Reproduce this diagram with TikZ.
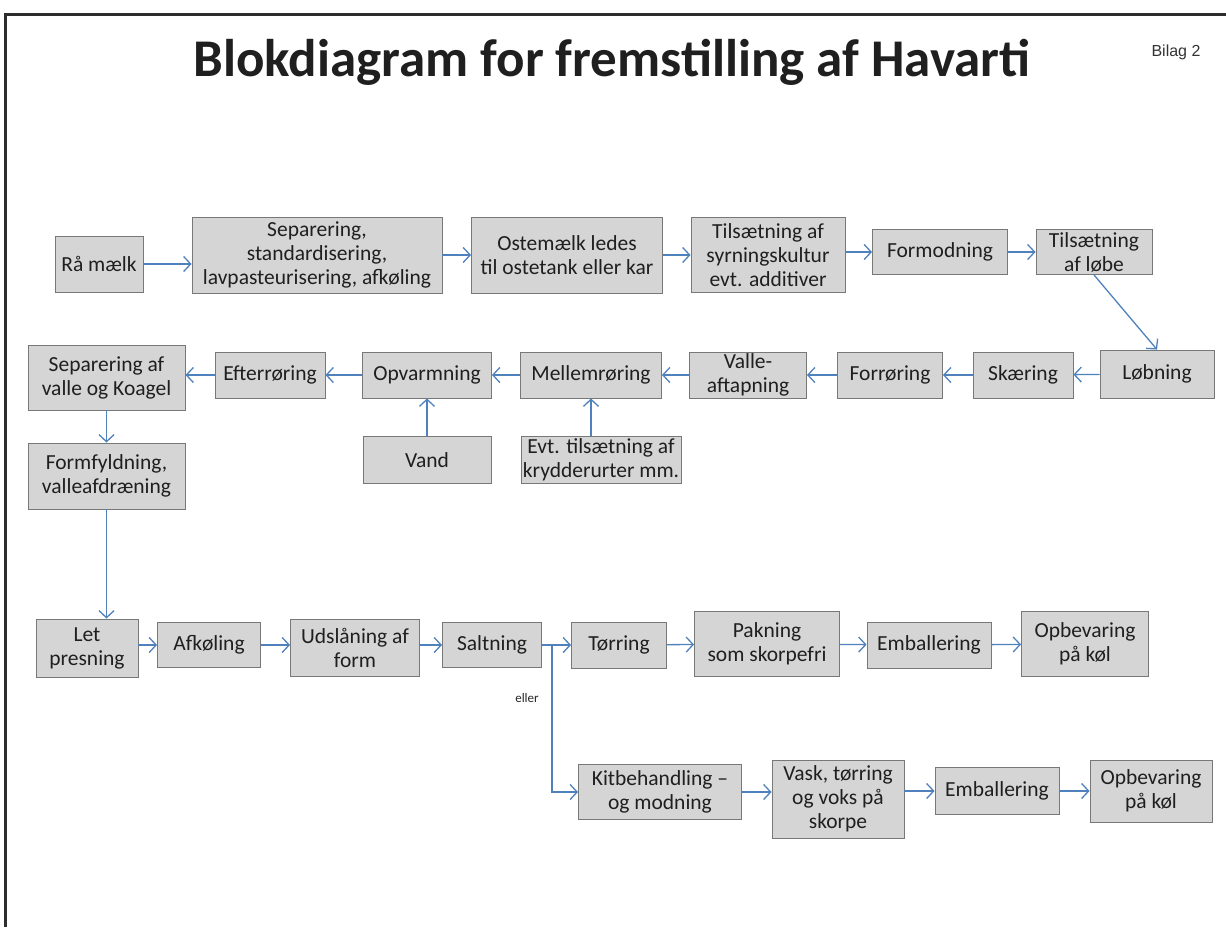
\documentclass[tikz,border=0pt]{standalone}
\usepackage{fontspec}
\setmainfont{Carlito}
\newfontfamily\arialf{Liberation Sans}
\usetikzlibrary{arrows.meta,calc}
\definecolor{boxfill}{RGB}{213,213,213}
\definecolor{boxline}{RGB}{120,120,120}
\definecolor{arrblue}{RGB}{79,129,189}
\definecolor{frame}{RGB}{45,45,45}
\tikzset{
  box/.style={draw=boxline, fill=boxfill, line width=0.9, inner sep=0pt, align=center,
    font=\fontsize{21.5}{24}\selectfont, text=black!88},
  flow/.style={draw=arrblue, line width=1.3, -{Straight Barb[length=7,width=15]}},
  plain/.style={draw=arrblue, line width=1.3},
}
\newcommand{\bx}[6]{\node[box, minimum width=#4, minimum height=#5] (#1) at (#2,#3) {#6};}
\begin{document}
\begin{tikzpicture}[x=1pt,y=-1pt]
\useasboundingbox (0,0) rectangle (1226,927);
% frame
\draw[frame, line width=3] (5,927) -- (5,14) -- (1226,14);
% title
\node[font=\fontsize{53}{60}\selectfont\bfseries, text=black!88] (title) at (612,62) {Blokdiagram for fremstilling af Havarti};
\node[font=\arialf\fontsize{16}{18}\selectfont, text=black!80] (bilag) at (1176,52) {Bilag 2};
% row 1
\bx{raa}{99}{264}{88}{56}{Rå mælk}
\bx{sep}{317}{255}{250}{76}{Separering,\\standardisering,\\lavpasteurisering, afkøling}
\bx{ost}{567}{255}{191}{76}{Ostemælk ledes\\til ostetank eller kar}
\bx{syr}{768}{255}{154}{75}{Tilsætning af\\syrningskultur\\evt. additiver}
\bx{form}{940}{252}{135}{45}{Formodning}
\bx{lobe}{1094}{252}{116}{45}{Tilsætning\\af løbe}
% row 2
\bx{lob}{1157}{374}{114}{48}{Løbning}
\bx{skaer}{1023}{375}{100}{46}{Skæring}
\bx{forr}{890}{375}{105}{46}{Forrøring}
\bx{valle}{748}{375}{117}{46}{Valle-\\aftapning}
\bx{mell}{591}{375}{141}{46}{Mellemrøring}
\bx{opv}{427}{375}{129}{46}{Opvarmning}
\bx{efter}{270}{375}{110}{46}{Efterrøring}
\bx{sepv}{106.5}{377.5}{157}{65}{Separering af\\valle og Koagel}
\bx{formf}{106.5}{476}{157}{66}{Formfyldning,\\valleafdræning}
\bx{vand}{427}{460}{128}{47}{Vand}
\bx{evt}{601}{460}{160}{47}{Evt. tilsætning af\\krydderurter mm.}
% row 3
\bx{let}{87}{648}{102}{58}{Let\\presning}
\bx{afk}{209}{645}{103}{45}{Afkøling}
\bx{uds}{355}{648}{129}{57}{Udslåning af\\form}
\bx{salt}{492}{645}{99}{45}{Saltning}
\bx{torr}{619}{645}{95}{46}{Tørring}
\bx{pak}{767}{644}{145}{65}{Pakning\\som skorpefri}
\bx{emb1}{929}{645}{124}{46}{Emballering}
\bx{opb1}{1085}{644}{127}{65}{Opbevaring\\på køl}
% row 4
\bx{kit}{660}{792}{163}{55}{Kitbehandling –\\og modning}
\bx{vask}{838}{799}{132}{78}{Vask, tørring\\og voks på\\skorpe}
\bx{emb2}{997}{791}{124}{47}{Emballering}
\bx{opb2}{1151}{791}{122}{62}{Opbevaring\\på køl}
% connectors row 1
\draw[flow] (raa.east) -- (raa.east -| sep.west);
\draw[flow] (sep) -- (ost);
\draw[flow] (ost) -- (syr);
\draw[flow] (syr.east |- form.west) -- (form.west);
\draw[flow] (form) -- (lobe);
\draw[flow] (lobe.south) -- (lob.north);
% row 2
\draw[flow] (lob) -- (skaer);
\draw[flow] (skaer) -- (forr);
\draw[flow] (forr) -- (valle);
\draw[flow] (valle) -- (mell);
\draw[flow] (mell) -- (opv);
\draw[flow] (opv) -- (efter);
\draw[flow] (efter.west) -- (sepv.east |- efter.west);
\draw[flow] (vand) -- (opv);
\draw[flow] (mell.south |- evt.north) -- (mell.south);
\draw[flow] (sepv) -- (formf);
\draw[flow] (formf.south) -- (formf.south |- let.north);
% row 3
\draw[flow] (let.east |- afk.west) -- (afk.west);
\draw[flow] (afk.east) -- (afk.east -| uds.west);
\draw[flow] (uds.east |- salt.west) -- (salt.west);
\coordinate (br) at ($(salt.east)+(10,0)$);
\draw[plain] (salt.east) -- (br);
\draw[flow] (br) -- (torr.west);
\draw[flow] (torr) -- (pak);
\draw[flow] (pak) -- (emb1);
\draw[flow] (emb1) -- (opb1);
\draw[flow] (br) -- (br |- kit.west) -- (kit.west);
\node[font=\fontsize{13}{15}\selectfont, text=black!85] (eller) at (527,698) {eller};
% row 4
\draw[flow] (kit) -- (vask.west |- kit.east);
\draw[flow] (vask.east |- emb2.west) -- (emb2.west);
\draw[flow] (emb2) -- (opb2);
\end{tikzpicture}
\end{document}
